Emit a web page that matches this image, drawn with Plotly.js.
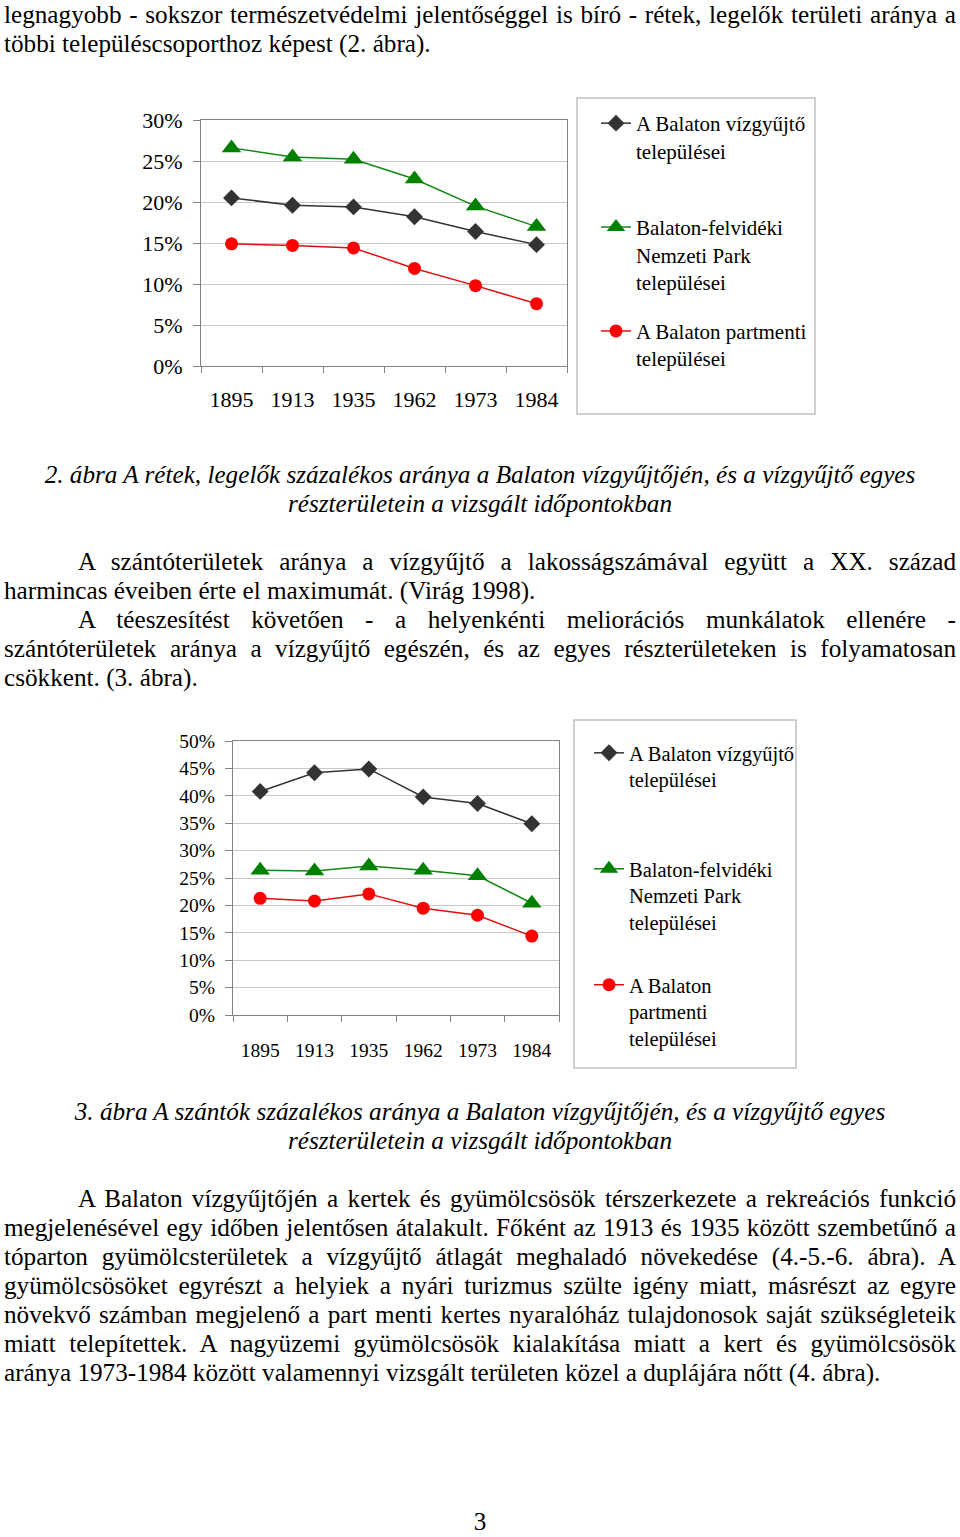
<!DOCTYPE html>
<html>
<head>
<meta charset="utf-8">
<script src="https://cdn.plot.ly/plotly-3.0.1.min.js"></script>
<style>
  body { margin: 0; background: #fff; }
  #page { position: relative; width: 960px; height: 1537px; overflow: hidden; background: #fff; }
  .txt { position: absolute; left: 4px; width: 952px; font-family: "Liberation Serif", "Times New Roman", serif;
         font-size: 25.2px; line-height: 29px; color: #000; }
  .txt div { white-space: nowrap; }
  .txt .j { text-align: justify; text-align-last: justify; }
  .txt .ind { text-indent: 74px; }
  .cap { font-style: italic; text-align: center; }
  .chart { position: absolute; left: 0; width: 960px; }
</style>
</head>
<body>
<div id="page">

<div class="txt" style="top:0px">
  <div class="j">legnagyobb - sokszor természetvédelmi jelentőséggel is bíró - rétek, legelők területi aránya a</div>
  <div>többi településcsoporthoz képest (2. ábra).</div>
</div>

<div id="chart2" class="chart" style="top:90px; height:340px"></div>

<div class="txt cap" style="top:460px">
  <div>2. ábra A rétek, legelők százalékos aránya a Balaton vízgyűjtőjén, és a vízgyűjtő egyes</div>
  <div>részterületein a vizsgált időpontokban</div>
</div>

<div class="txt" style="top:547px">
  <div class="j ind">A szántóterületek aránya a vízgyűjtő a lakosságszámával együtt a XX. század</div>
  <div>harmincas éveiben érte el maximumát. (Virág 1998).</div>
  <div class="j ind">A téeszesítést követően - a helyenkénti meliorációs munkálatok ellenére -</div>
  <div class="j">szántóterületek aránya a vízgyűjtő egészén, és az egyes részterületeken is folyamatosan</div>
  <div>csökkent. (3. ábra).</div>
</div>

<div id="chart3" class="chart" style="top:715px; height:370px"></div>

<div class="txt cap" style="top:1097px">
  <div>3. ábra A szántók százalékos aránya a Balaton vízgyűjtőjén, és a vízgyűjtő egyes</div>
  <div>részterületein a vizsgált időpontokban</div>
</div>

<div class="txt" style="top:1184px">
  <div class="j ind">A Balaton vízgyűjtőjén a kertek és gyümölcsösök térszerkezete a rekreációs funkció</div>
  <div class="j">megjelenésével egy időben jelentősen átalakult. Főként az 1913 és 1935 között szembetűnő a</div>
  <div class="j">tóparton gyümölcsterületek a vízgyűjtő átlagát meghaladó növekedése (4.-5.-6. ábra). A</div>
  <div class="j">gyümölcsösöket egyrészt a helyiek a nyári turizmus szülte igény miatt, másrészt az egyre</div>
  <div class="j">növekvő számban megjelenő a part menti kertes nyaralóház tulajdonosok saját szükségleteik</div>
  <div class="j">miatt telepítettek. A nagyüzemi gyümölcsösök kialakítása miatt a kert és gyümölcsösök</div>
  <div>aránya 1973-1984 között valamennyi vizsgált területen közel a duplájára nőtt (4. ábra).</div>
</div>

<div class="txt cap" style="top:1508px; line-height:28px; font-style:normal">
  <div>3</div>
</div>

</div>

<script>
// years on the x axis (same for both figures)
var years = ['1895', '1913', '1935', '1962', '1973', '1984'];

// 2. ábra - rétek, legelők (%)
var meadowCatchment = [20.5, 19.6, 19.4, 18.2, 16.4, 14.8];
var meadowPark      = [26.6, 25.5, 25.2, 22.8, 19.5, 17.0];
var meadowShore     = [14.9, 14.7, 14.4, 11.9, 9.8, 7.6];

// 3. ábra - szántók (%)
var arableCatchment = [40.8, 44.2, 44.9, 39.8, 38.6, 34.9];
var arablePark      = [26.4, 26.3, 27.2, 26.4, 25.4, 20.4];
var arableShore     = [21.3, 20.8, 22.1, 19.5, 18.2, 14.4];

var seriesNames = [
    'A Balaton vízgyűjtő<br>települései<br>&nbsp;',
    'Balaton-felvidéki<br>Nemzeti Park<br>települései',
    'A Balaton partmenti<br>települései'
];
var seriesNames3 = [
    'A Balaton vízgyűjtő<br>települései<br>&nbsp;',
    'Balaton-felvidéki<br>Nemzeti Park<br>települései',
    'A Balaton<br>partmenti<br>települései'
];

var serif = '"Liberation Serif", "Times New Roman", serif';

function drawChart(divId, o) {
    // o.box: plot area in page px, o.top: div top in page px
    var W = o.box.x1 - o.box.x0, H = o.box.y1 - o.box.y0;
    function px(x) { return (x - o.box.x0) / W; }
    function py(y) { return (o.box.y1 - y) / H; }

    var styles = [
        {color: '#333333', symbol: 'diamond', size: 13},
        {color: '#008000', symbol: 'triangle-up', size: 17},
        {color: '#ff0000', symbol: 'circle', size: 13}
    ];
    var lineCols = ['#333333', '#118811', '#e01010'];

    var data = o.values.map(function (vals, i) {
        return {
            x: years,
            y: vals,
            type: 'scatter',
            mode: 'lines+markers',
            name: o.names[i],
            legendgroup: 'g' + i,
            line: {color: lineCols[i], width: 1.5},
            marker: {color: styles[i].color, symbol: styles[i].symbol, size: styles[i].size,
                     line: {width: 0}},
            cliponaxis: false
        };
    });

    var layout = {
        width: 960,
        height: o.height,
        margin: {l: o.box.x0, r: 960 - o.box.x1, t: o.box.y0 - o.top, b: o.top + o.height - o.box.y1, pad: 0},
        paper_bgcolor: 'rgba(0,0,0,0)',
        plot_bgcolor: '#ffffff',
        font: {family: serif, color: '#000'},
        showlegend: true,
        xaxis: {
            type: 'category',
            range: [-0.5, 5.5],
            tickson: 'boundaries',
            ticks: 'outside', ticklen: 6, tickcolor: '#808080',
            showline: true, linecolor: '#808080', mirror: true,
            showgrid: false, zeroline: false,
            tickfont: {size: o.tickSize, family: serif},
            ticklabelstandoff: o.xStandoff
        },
        yaxis: {
            range: [0, o.ymax],
            dtick: 5,
            ticksuffix: '%',
            ticks: 'outside', ticklen: 7, tickcolor: '#808080',
            showline: true, linecolor: '#808080', mirror: true,
            showgrid: true, gridcolor: '#c8c8c8', gridwidth: 1,
            zeroline: false,
            tickfont: {size: o.tickSize, family: serif},
            ticklabelstandoff: o.yStandoff
        },
        legend: {
            x: px(o.legend.x), y: py(o.legend.y),
            xanchor: 'left', yanchor: 'top',
            valign: 'top',
            traceorder: 'grouped',
            tracegroupgap: o.legend.gap,
            maxheight: 600,
            bgcolor: 'rgba(0,0,0,0)',
            borderwidth: 0,
            font: {size: o.legend.size, family: serif, color: '#000'}
        },
        shapes: [{
            type: 'rect', xref: 'paper', yref: 'paper', layer: 'below',
            x0: px(o.frame.x0), x1: px(o.frame.x1), y0: py(o.frame.y1), y1: py(o.frame.y0),
            line: {color: '#c0c0c0', width: 1.5}, fillcolor: 'rgba(0,0,0,0)'
        }]
    };

    Plotly.newPlot(divId, data, layout, {displayModeBar: false, staticPlot: true});
}

drawChart('chart2', {
    top: 90, height: 340,
    box: {x0: 201, x1: 567, y0: 120, y1: 366},
    values: [meadowCatchment, meadowPark, meadowShore],
    names: seriesNames,
    ymax: 30,
    tickSize: 22,
    xStandoff: 14, yStandoff: 6,
    legend: {x: 596, y: 103, gap: 19, size: 21},
    frame: {x0: 577, x1: 815, y0: 98, y1: 414}
});

drawChart('chart3', {
    top: 715, height: 370,
    box: {x0: 233, x1: 559, y0: 741, y1: 1015},
    values: [arableCatchment, arablePark, arableShore],
    names: seriesNames3,
    ymax: 50,
    tickSize: 19.5,
    xStandoff: 18, yStandoff: 6,
    legend: {x: 589, y: 733, gap: 33, size: 20.5},
    frame: {x0: 574, x1: 796, y0: 720, y1: 1068}
});
</script>
</body>
</html>
